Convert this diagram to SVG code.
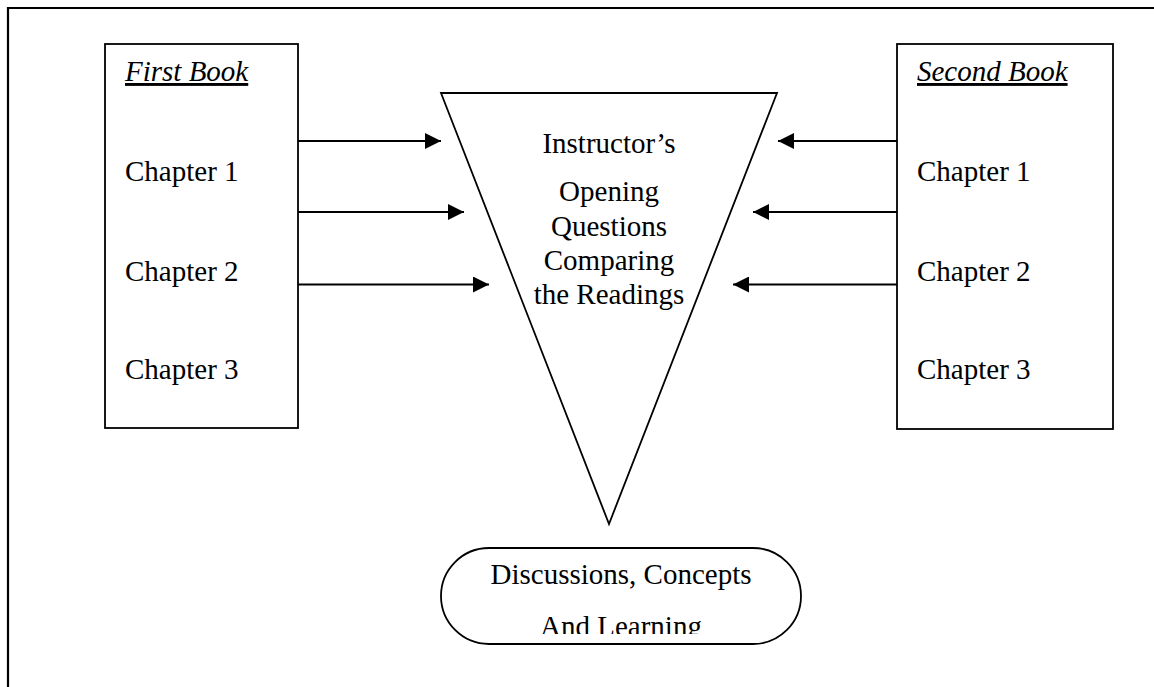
<svg xmlns="http://www.w3.org/2000/svg" width="1154" height="687" viewBox="0 0 1154 687">
<style>
.t{font-family:"Liberation Serif","Times New Roman",serif;font-size:29px;fill:#000}
.c{text-anchor:middle}
.h{font-style:italic;text-decoration:underline}
.s{fill:none;stroke:#000;stroke-width:1.8}
.a{stroke:#000;stroke-width:1.8;fill:none}
</style>
<defs>
<marker id="ah" viewBox="0 0 16 16" refX="16" refY="8" markerWidth="16" markerHeight="16" markerUnits="userSpaceOnUse" orient="auto">
<path d="M0,0 L16,8 L0,16 Z" fill="#000"/>
</marker>
<clipPath id="clipL"><rect x="400" y="540" width="420" height="94"/></clipPath>
</defs>
<rect width="1154" height="687" fill="#fff"/>
<path d="M8,687 V8 H1154" fill="none" stroke="#000" stroke-width="2.2"/>
<g id="first-book">
<rect class="s" x="105" y="44" width="193" height="384"/>
<text class="t h" x="125" y="81">First Book</text>
<text class="t" x="125" y="181">Chapter 1</text>
<text class="t" x="125" y="281">Chapter 2</text>
<text class="t" x="125" y="379">Chapter 3</text>
</g>
<g id="second-book">
<rect class="s" x="897" y="44" width="216" height="385"/>
<text class="t h" x="917" y="81">Second Book</text>
<text class="t" x="917" y="181">Chapter 1</text>
<text class="t" x="917" y="281">Chapter 2</text>
<text class="t" x="917" y="379">Chapter 3</text>
</g>
<g id="instructor">
<path class="s" d="M441,93 L777,93 L609,524 Z"/>
<text class="t c" x="609" y="153">Instructor’s</text>
<text class="t c" x="609" y="201">Opening</text>
<text class="t c" x="609" y="235.5">Questions</text>
<text class="t c" x="609" y="269.5">Comparing</text>
<text class="t c" x="609" y="303.5">the Readings</text>
</g>
<g id="discussions">
<rect class="s" x="441" y="548" width="360" height="96" rx="48" ry="48"/>
<text class="t c" x="621" y="584">Discussions, Concepts</text>
<text class="t c" x="621" y="636" clip-path="url(#clipL)">And Learning</text>
</g>
<g id="connectors">
<line class="a" x1="298" y1="141" x2="441" y2="141" marker-end="url(#ah)"/>
<line class="a" x1="298" y1="212" x2="464" y2="212" marker-end="url(#ah)"/>
<line class="a" x1="298" y1="284.5" x2="489" y2="284.5" marker-end="url(#ah)"/>
<line class="a" x1="897" y1="141" x2="778" y2="141" marker-end="url(#ah)"/>
<line class="a" x1="897" y1="212" x2="753" y2="212" marker-end="url(#ah)"/>
<line class="a" x1="897" y1="284.5" x2="733" y2="284.5" marker-end="url(#ah)"/>
</g>
</svg>
